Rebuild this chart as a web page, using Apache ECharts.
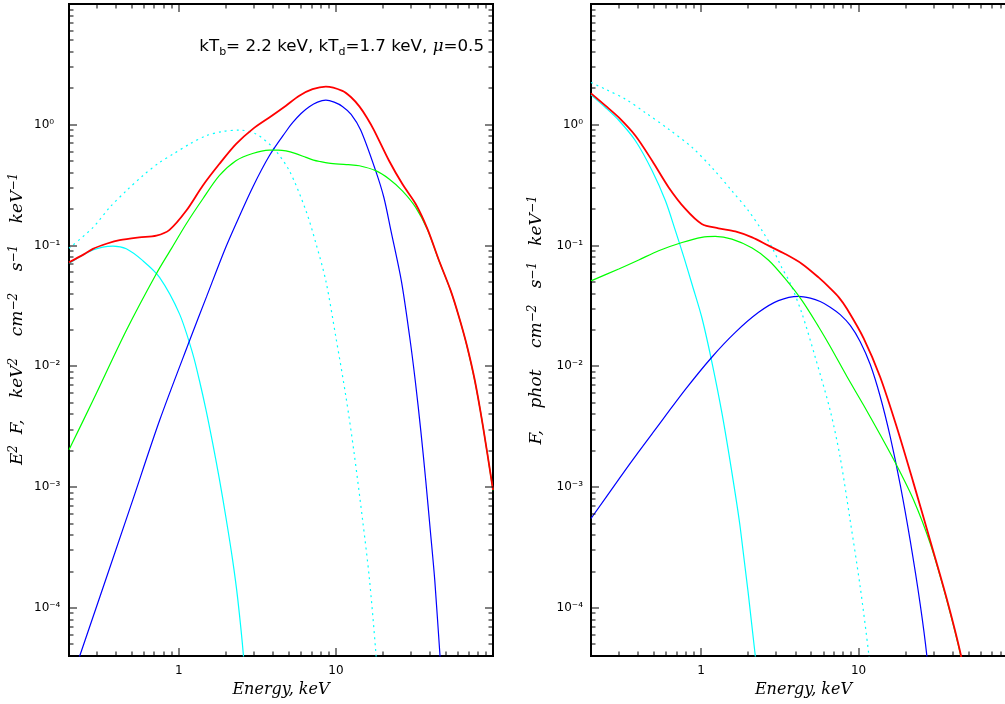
<!DOCTYPE html>
<html><head><meta charset="utf-8">
<script src="https://cdn.jsdelivr.net/npm/echarts@6/dist/echarts.min.js"></script>
<style>html,body{margin:0;padding:0;overflow:hidden;background:#fff}#c{width:1030px;height:704px}</style>
</head><body><div id="c"></div>
<script>
// ---- tick values and labels ----
const xMajorTicks = [1, 10];
const xTickLabels = ['1', '10'];
const xMinorTicks = [0.3,0.4,0.5,0.6,0.7,0.8,0.9,2,3,4,5,6,7,8,9,20,30,40,50,60,70,80,90];
const yMajorTicks = [1e-4, 1e-3, 1e-2, 1e-1, 1];
const yTickLabels = ['10\u207B\u2074', '10\u207B\u00B3', '10\u207B\u00B2', '10\u207B\u00B9', '10\u2070'];
const yMinorTicks = [5e-5,6e-5,7e-5,8e-5,9e-5,
  2e-4,3e-4,4e-4,5e-4,6e-4,7e-4,8e-4,9e-4,
  2e-3,3e-3,4e-3,5e-3,6e-3,7e-3,8e-3,9e-3,
  0.02,0.03,0.04,0.05,0.06,0.07,0.08,0.09,
  0.2,0.3,0.4,0.5,0.6,0.7,0.8,0.9,
  2,3,4,5,6,7,8,9];

// ---- left panel: E^2 F ----
const leftRedE = [0.2,0.25,0.284,0.35,0.42,0.56,0.72,0.873,1.114,1.42,1.81,2.31,2.95,3.77,4.81,5.85,7.1,8.63,11.0,12.5,14.1,15.8,17.5,21.8,26.5,32.2,38.3,45.2,53.8,60.7,68.2,76.7,86.3,100];
const leftRedV = [0.0726,0.085,0.094,0.104,0.111,0.117,0.121,0.135,0.194,0.313,0.473,0.692,0.921,1.15,1.44,1.74,1.97,2.07,1.91,1.69,1.42,1.14,0.9,0.504,0.323,0.221,0.137,0.076,0.0424,0.0258,0.0149,0.0076,0.0032,0.00095];

const leftGreenE = [0.2,0.284,0.463,0.718,0.895,1.114,1.42,1.81,2.31,2.95,3.77,4.3,4.81,5.5,6.45,7.2,8.0,9.0,10.5,12.0,14.1,17.9,21.8,26.5,32.2,38.3,45.2,53.8,60.7,68.2,76.7,86.3,100];
const leftGreenV = [0.00204,0.00521,0.0198,0.0582,0.094,0.151,0.243,0.379,0.504,0.579,0.617,0.618,0.608,0.58,0.537,0.51,0.495,0.482,0.473,0.468,0.458,0.417,0.356,0.284,0.207,0.135,0.0755,0.0422,0.0257,0.0148,0.0075,0.0032,0.00094];

const leftBlueE = [0.2,0.234,0.491,0.754,1.17,1.5,1.95,2.31,2.95,3.77,4.81,5.3,6.0,6.77,7.64,8.63,9.75,11.0,12.5,14.4,17.9,20.2,22.4,26.1,29.4,32.0,34.7,37.3,39.9,42.6,46.0,48];
const leftBlueV = [2.2e-5,4e-5,6.8e-4,3.56e-3,0.0163,0.0376,0.0907,0.151,0.303,0.554,0.88,1.04,1.24,1.41,1.54,1.6,1.54,1.42,1.22,0.9,0.417,0.25,0.133,0.051,0.018,0.0076,2.94e-3,1.14e-3,4.38e-4,1.69e-4,4e-5,2e-5];

const leftCyanE = [0.2,0.284,0.381,0.463,0.59,0.754,1.01,1.227,1.354,1.493,1.644,1.814,2.0,2.2,2.37,2.58,2.75];
const leftCyanV = [0.071,0.092,0.099,0.094,0.075,0.0546,0.0272,0.0127,7.6e-3,4.3e-3,2.3e-3,1.16e-3,5.5e-4,2.5e-4,1.2e-4,4e-5,1.2e-5];

const leftDotE = [0.2,0.284,0.363,0.463,0.59,0.754,0.916,1.17,1.49,1.9,2.43,3.1,3.96,5.05,6.45,7.45,8.63,10.0,11.6,13.0,14.8,16.3,17.9,19];
const leftDotV = [0.095,0.141,0.207,0.284,0.379,0.488,0.57,0.692,0.811,0.88,0.904,0.838,0.65,0.417,0.194,0.105,0.051,0.0174,0.00555,0.0020,5.3e-4,1.8e-4,4.5e-5,1.5e-5];

// ---- right panel: F ----
const rightRedE = [0.2,0.247,0.30,0.383,0.489,0.623,0.795,1.01,1.29,1.65,2.11,2.68,3.42,4.38,5.575,6.61,7.5,8.44,10.8,13.7,17.5,22.3,28.5,36.4,44.8,47];
const rightRedV = [1.82,1.44,1.15,0.811,0.504,0.303,0.201,0.151,0.139,0.131,0.117,0.0998,0.0852,0.0705,0.0545,0.0443,0.0373,0.030,0.017,0.0082,0.00313,1.09e-3,3.62e-4,1.18e-4,4e-5,2.6e-5];

const rightGreenE = [0.2,0.30,0.402,0.538,0.757,1.01,1.23,1.57,2.11,2.685,3.42,4.38,5.575,6.61,8.44,10.8,13.7,17.5,22.3,28.5,36.4,44.8,47];
const rightGreenV = [0.051,0.064,0.076,0.0907,0.106,0.117,0.119,0.113,0.0954,0.0756,0.0532,0.035,0.0213,0.0146,8.24e-3,4.74e-3,2.73e-3,1.51e-3,7.9e-4,3.42e-4,1.15e-4,3.9e-5,2.5e-5];

const rightBlueE = [0.2,0.3,0.4,0.5,0.8,1.17,1.65,2.32,3.1,4.16,4.94,5.71,6.61,7.65,8.86,10.25,11.87,13.73,15.89,18.39,21.28,24.64,27.16,29.5];
const rightBlueV = [5.5e-4,1.16e-3,1.95e-3,2.88e-3,6.5e-3,0.0119,0.0191,0.028,0.035,0.038,0.0367,0.0344,0.0309,0.0268,0.0218,0.016,0.01035,5.63e-3,2.62e-3,1.05e-3,3.62e-4,1.07e-4,4e-5,1.2e-5];

const rightCyanE = [0.2,0.247,0.30,0.383,0.489,0.594,0.687,0.783,0.881,1.015,1.174,1.359,1.573,1.776,2.21,2.35];
const rightCyanV = [1.77,1.39,1.09,0.738,0.417,0.235,0.133,0.078,0.0467,0.0249,0.0107,4.06e-3,1.3e-3,4.55e-4,4e-5,1.5e-5];

const rightDotE = [0.2,0.247,0.331,0.443,0.623,0.877,1.17,1.57,2.0,2.44,2.82,3.26,3.68,4.38,5.31,6.61,7.64,8.85,10.25,11.6,12.3];
const rightDotV = [2.24,1.97,1.63,1.26,0.92,0.65,0.443,0.284,0.194,0.133,0.0966,0.0655,0.049,0.0272,0.0119,4.3e-3,1.77e-3,5.3e-4,1.49e-4,4.2e-5,2e-5];

const pts = (E, V) => E.map((e, i) => [e, V[i]]);

function labelOf(v, ticks, labels) {
  const i = ticks.findIndex(t => Math.abs(Math.log10(t) - Math.log10(v)) < 1e-6);
  return i >= 0 ? labels[i] : '';
}

const labelFont = 'DejaVu Sans';
const titleFont = 'DejaVu Serif';
const X_MIN = 0.2, X_MAX = 100, Y_MIN = 4e-5, Y_MAX = 10;

function xAx(idx) {
  return {
    type: 'log', gridIndex: idx, min: X_MIN, max: X_MAX, logBase: 10,
    axisLine: { show: false }, axisTick: { show: false }, splitLine: { show: false },
    axisLabel: { color: '#000', fontFamily: labelFont, fontSize: 12, margin: 9,
      formatter: v => labelOf(v, xMajorTicks, xTickLabels) },
    name: 'Energy, keV', nameLocation: 'middle', nameGap: 23,
    nameTextStyle: { color: '#000', fontFamily: titleFont, fontStyle: 'italic', fontSize: 16 }
  };
}
function yAx(idx, align, margin) {
  return {
    type: 'log', gridIndex: idx, min: Y_MIN, max: Y_MAX, logBase: 10,
    axisLine: { show: false }, axisTick: { show: false }, splitLine: { show: false },
    axisLabel: { color: '#000', fontFamily: labelFont, fontSize: 12, margin: margin, align: align,
      formatter: v => labelOf(v, yMajorTicks, yTickLabels) }
  };
}

function line(name, data, color, xi, width, dashed) {
  return {
    type: 'line', name: name, xAxisIndex: xi, yAxisIndex: xi, data: data,
    showSymbol: false, smooth: 0.3, clip: true, silent: true,
    lineStyle: { color: color, width: width, type: dashed ? [2, 4] : 'solid' }
  };
}

const chart = echarts.init(document.getElementById('c'), null, { renderer: 'canvas' });
chart.setOption({
  animation: false,
  backgroundColor: '#fff',
  grid: [
    { left: 69, top: 4, width: 424, height: 652, show: true, borderColor: '#000', borderWidth: 2, backgroundColor: 'transparent' },
    { left: 591, top: 4, width: 425, height: 652, show: true, borderColor: '#000', borderWidth: 2, backgroundColor: 'transparent' }
  ],
  xAxis: [xAx(0), xAx(1)],
  yAxis: [yAx(0, 'left', 35), yAx(1, 'right', 8)],
  series: [
    line('dotL', pts(leftDotE, leftDotV), '#00ffff', 0, 1.2, true),
    line('cyanL', pts(leftCyanE, leftCyanV), '#00ffff', 0, 1.2, false),
    line('blueL', pts(leftBlueE, leftBlueV), '#0000ff', 0, 1.2, false),
    line('greenL', pts(leftGreenE, leftGreenV), '#00ff00', 0, 1.2, false),
    line('redL', pts(leftRedE, leftRedV), '#ff0000', 0, 1.8, false),
    line('dotR', pts(rightDotE, rightDotV), '#00ffff', 1, 1.2, true),
    line('cyanR', pts(rightCyanE, rightCyanV), '#00ffff', 1, 1.2, false),
    line('blueR', pts(rightBlueE, rightBlueV), '#0000ff', 1, 1.2, false),
    line('greenR', pts(rightGreenE, rightGreenV), '#00ff00', 1, 1.2, false),
    line('redR', pts(rightRedE, rightRedV), '#ff0000', 1, 1.8, false)
  ]
});

// ---- tick marks on all four sides, placed through the axes' own scales ----
const graphics = [];
[0, 1].forEach(gi => {
  const finder = { xAxisIndex: gi, yAxisIndex: gi };
  const bl = chart.convertToPixel(finder, [X_MIN, Y_MIN]);
  const tr = chart.convertToPixel(finder, [X_MAX, Y_MAX]);
  const left = bl[0], bottom = bl[1], right = tr[0], top = tr[1];
  const addX = (v, len) => {
    const px = Math.round(chart.convertToPixel(finder, [v, 1])[0]);
    graphics.push({ type: 'rect', silent: true, z: 100, shape: { x: px - 0.5, y: bottom - len, width: 1, height: len }, style: { fill: '#000' } });
    graphics.push({ type: 'rect', silent: true, z: 100, shape: { x: px - 0.5, y: top, width: 1, height: len }, style: { fill: '#000' } });
  };
  const addY = (v, len) => {
    const py = Math.round(chart.convertToPixel(finder, [1, v])[1]);
    graphics.push({ type: 'rect', silent: true, z: 100, shape: { x: left, y: py - 0.5, width: len, height: 1 }, style: { fill: '#000' } });
    graphics.push({ type: 'rect', silent: true, z: 100, shape: { x: right - len, y: py - 0.5, width: len, height: 1 }, style: { fill: '#000' } });
  };
  xMinorTicks.forEach(v => addX(v, 4.5));
  xMajorTicks.forEach(v => addX(v, 8));
  yMinorTicks.forEach(v => addY(v, 4.5));
  yMajorTicks.forEach(v => addY(v, 8));
});

const mainI = { fontFamily: titleFont, fontStyle: 'italic', fontSize: 17, lineHeight: 20, fill: '#000' };
const supI = { fontFamily: titleFont, fontStyle: 'italic', fontSize: 12, lineHeight: 12, verticalAlign: 'top', fill: '#000' };

graphics.push(
  { type: 'text', x: 18, y: 319, rotation: Math.PI / 2,
    style: { text: '{i|E}{p|2}{i|  F,    keV}{p|2}{i|    cm}{p|\u22122}{i|    s}{p|\u22121}{i|    keV}{p|\u22121}',
      align: 'center', verticalAlign: 'middle', rich: { i: mainI, p: supI } } },
  { type: 'text', x: 537, y: 320, rotation: Math.PI / 2,
    style: { text: '{i|F,    phot    cm}{p|\u22122}{i|   s}{p|\u22121}{i|   keV}{p|\u22121}',
      align: 'center', verticalAlign: 'middle', rich: { i: mainI, p: supI } } },
  { type: 'text', x: 484, y: 47,
    style: { text: '{n|kT}{s|b}{n|= 2.2 keV, kT}{s|d}{n|=1.7 keV, }{m|\u03BC}{n|=0.5}',
      align: 'right', verticalAlign: 'middle',
      rich: { n: { fontSize: 16.7, fontFamily: 'DejaVu Sans', lineHeight: 22, fill: '#000' },
              s: { fontSize: 11, fontFamily: 'DejaVu Sans', verticalAlign: 'bottom', lineHeight: 11, fill: '#000' },
              m: { fontSize: 16.7, fontFamily: 'DejaVu Serif', fontStyle: 'italic', lineHeight: 22, fill: '#000' } } } }
);

chart.setOption({ graphic: graphics });
</script>
</body></html>
